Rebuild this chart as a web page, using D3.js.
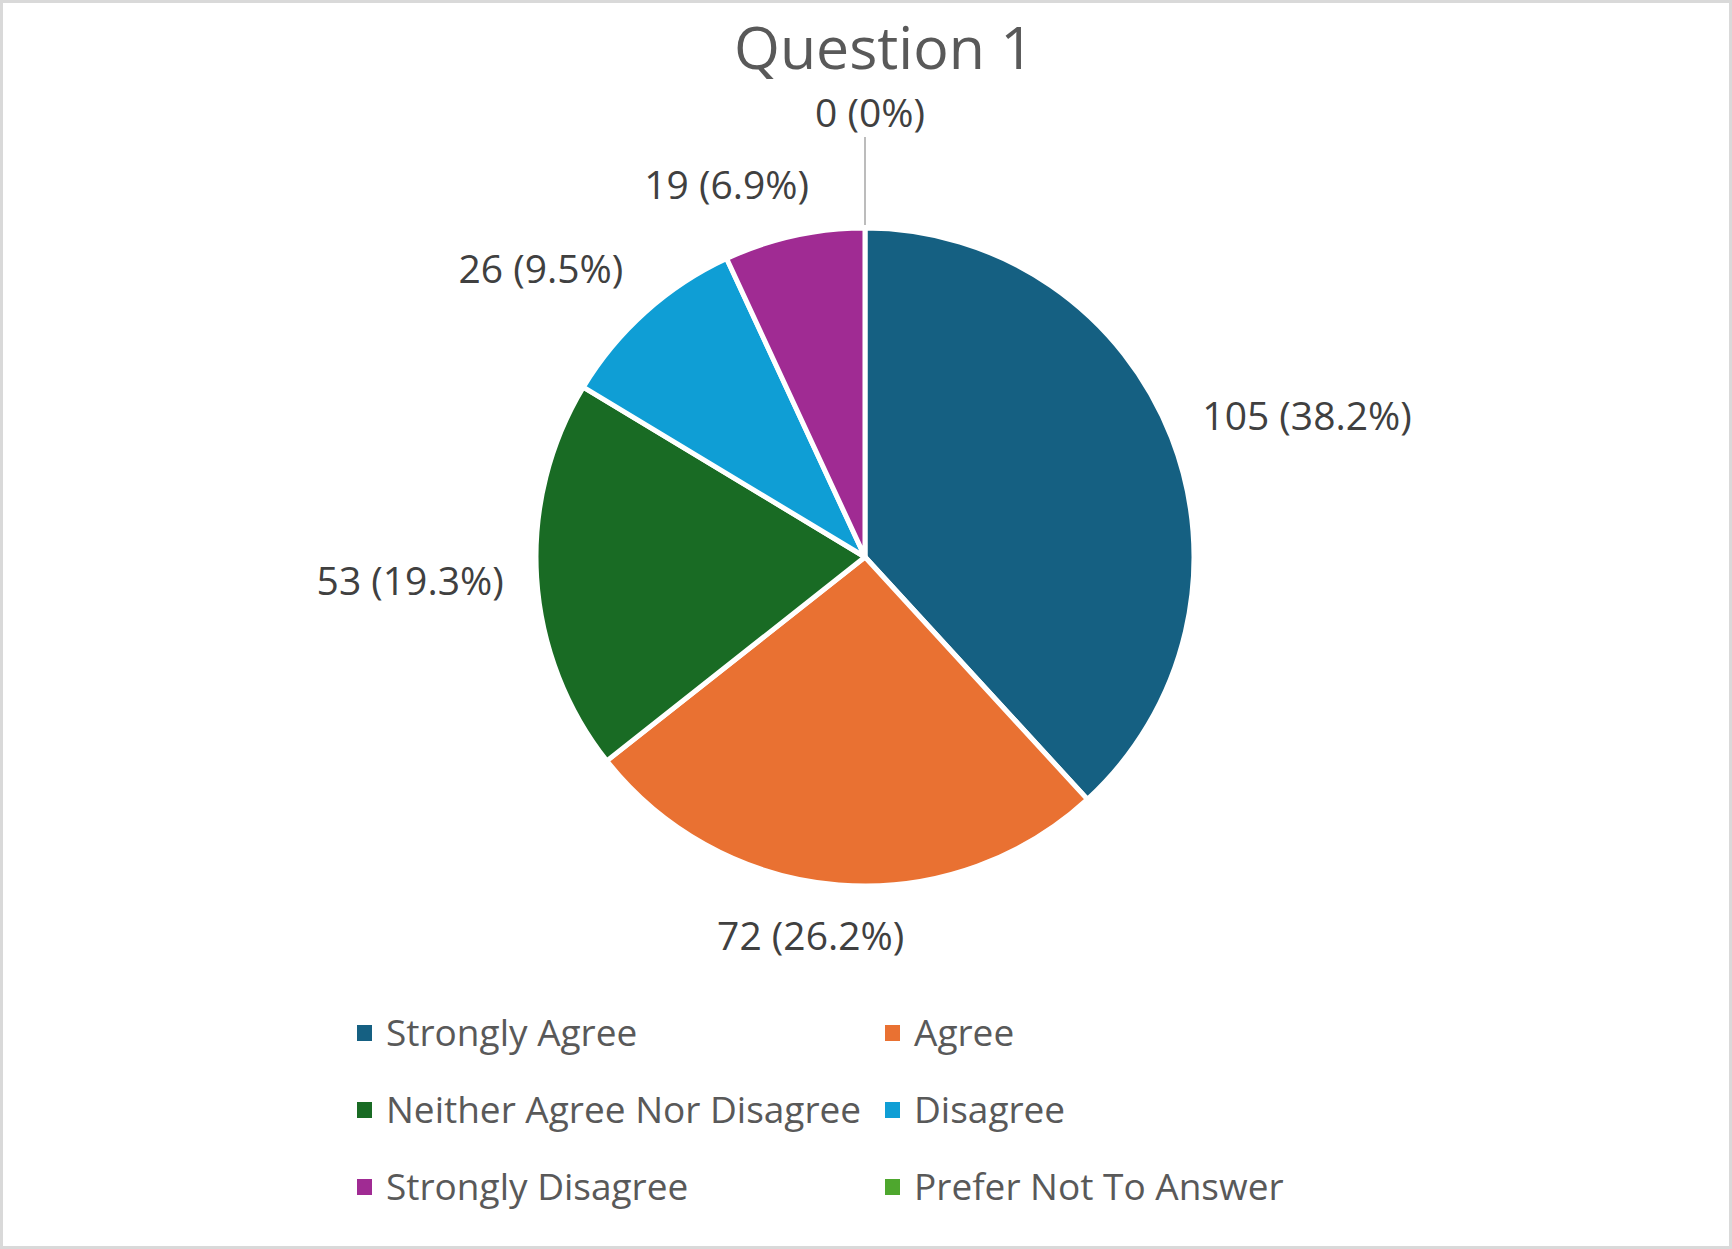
<!DOCTYPE html>
<html lang="en">
<head>
	<meta charset="utf-8">
	<title>Question 1</title>
	<script src="https://cdn.jsdelivr.net/npm/d3@7/dist/d3.min.js"></script>
	<style>
		body {
			margin: 0;
			background: #ffffff;
			font-family: "Open Sans", "Noto Sans", sans-serif;
		}
		.title {
			fill: #595959;
			font-size: 59px;
		}
		.label {
			fill: #404040;
			font-size: 39px;
		}
		.legend text {
			fill: #595959;
			font-size: 37px;
		}
	</style>
</head>
<body>
<script>
	// chart data
	var categories = ["Strongly Agree", "Agree", "Neither Agree Nor Disagree", "Disagree", "Strongly Disagree", "Prefer Not To Answer"];
	var counts = [105, 72, 53, 26, 19, 0];
	var colours = ["#156082", "#E97132", "#196B24", "#0F9ED5", "#A02B93", "#4EA72E"];
	var chartTitle = "Question 1";

	var width = 1732;
	var height = 1249;

	var svg = d3.select("body")
		.append("svg")
		.attr("width", width)
		.attr("height", height);

	// outer frame of the chart area
	svg.append("rect")
		.attr("x", 1.5)
		.attr("y", 1.5)
		.attr("width", width - 3)
		.attr("height", height - 3)
		.attr("fill", "#ffffff")
		.attr("stroke", "#D9D9D9")
		.attr("stroke-width", 3);

	svg.append("text")
		.attr("class", "title")
		.attr("x", 884)
		.attr("y", 69)
		.attr("text-anchor", "middle")
		.text(chartTitle);

	var cx = 865, cy = 557, radius = 329;
	var total = d3.sum(counts);

	var colour = d3.scaleOrdinal()
		.domain(categories)
		.range(colours);

	var rows = categories.map(function(c, i) {
		return { name: c, value: counts[i] };
	});

	var pie = d3.pie()
		.sort(null)
		.value(function(d) { return d.value; });

	var arc = d3.arc()
		.innerRadius(0)
		.outerRadius(radius);

	var slices = pie(rows);

	var g = svg.append("g")
		.attr("transform", "translate(" + cx + "," + cy + ")");

	g.selectAll("path")
		.data(slices.filter(function(d) { return d.value > 0; }))
		.enter()
		.append("path")
		.attr("d", arc)
		.attr("fill", function(d) { return colour(d.data.name); })
		.attr("stroke", "#ffffff")
		.attr("stroke-width", 5)
		.attr("stroke-linejoin", "round");

	function pct(v) {
		var p = v / total * 100;
		return p === 0 ? "0%" : p.toFixed(1) + "%";
	}

	// data labels, outside end; empty slices get a leader line
	var labelR = 362;
	var labels = g.selectAll("text.label")
		.data(slices)
		.enter()
		.append("text")
		.attr("class", "label")
		.attr("text-anchor", "middle")
		.attr("dy", "0.357em")
		.text(function(d) { return d.value + " (" + pct(d.value) + ")"; });

	labels.each(function(d) {
		var a = (d.startAngle + d.endAngle) / 2;
		var sx = Math.sin(a), sy = -Math.cos(a);
		var w = this.getComputedTextLength();
		var hh = 18;
		var x, y;
		if (d.value === 0) {
			x = 5 + sx * 444;
			y = sy * 444;
			g.append("line")
				.attr("x1", sx * 332)
				.attr("y1", sy * 332)
				.attr("x2", sx * 420)
				.attr("y2", sy * 420)
				.attr("stroke", "#A6A6A6")
				.attr("stroke-width", 1.5);
		} else {
			var fx = Math.max(-1, Math.min(1, 3.4 * sx));
			var fy = Math.max(-1, Math.min(1, 1.5 * sy));
			x = sx * labelR + fx * w / 2;
			y = sy * labelR + fy * hh;
		}
		d3.select(this).attr("x", x).attr("y", y);
	});

	// legend, two columns
	var legend = svg.append("g").attr("class", "legend");

	var colX = d3.scaleOrdinal().domain([0, 1]).range([357, 885]);
	var rowY = d3.scaleLinear().domain([0, 1]).range([1033, 1110]);

	var item = legend.selectAll("g")
		.data(categories)
		.enter()
		.append("g")
		.attr("transform", function(d, i) {
			return "translate(" + colX(i % 2) + "," + rowY(Math.floor(i / 2)) + ")";
		});

	item.append("rect")
		.attr("x", 0)
		.attr("y", -8)
		.attr("width", 15)
		.attr("height", 16)
		.attr("fill", function(d) { return colour(d); });

	item.append("text")
		.attr("x", 29)
		.attr("dy", "0.357em")
		.text(function(d) { return d; });
</script>
</body>
</html>
